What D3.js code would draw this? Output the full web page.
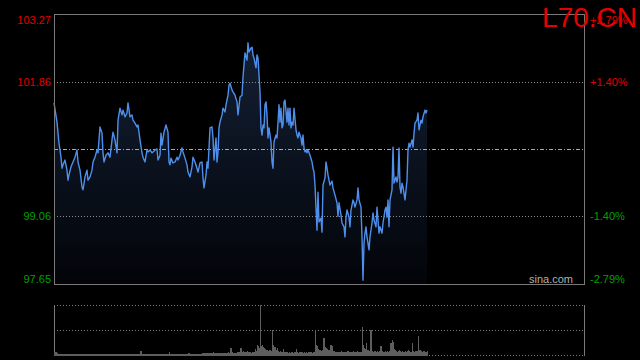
<!DOCTYPE html>
<html><head><meta charset="utf-8">
<script src="https://cdn.jsdelivr.net/npm/d3@7"></script>
<style>html,body{margin:0;padding:0;background:#000;overflow:hidden}</style>
</head><body>
<svg id="c" width="640" height="360"></svg>
<script>
const symbol = "L70.CN";
const watermark = "sina.com";
const priceTicks = [97.65, 99.06, 101.86, 103.27];
const priceLabels = ["97.65", "99.06", "101.86", "103.27"];
const pctLabels = ["-2.79%", "-1.40%", "+1.40%", "+2.79%"];
const prevClose = 100.46;
const sessionMinutes = 530;

const minutes = [
  0,3,4,5,7,8,9,11,13,14,
  15,17,19,21,23,24,26,28,29,31,
  33,34,36,38,39,41,43,44,46,48,
  49,50,52,54,56,58,59,61,63,64,
  66,68,69,71,73,74,76,78,79,81,
  83,84,86,88,89,91,93,94,96,98,
  99,101,103,104,106,107,108,110,112,114,
  115,116,117,119,121,123,124,126,128,129,
  131,133,134,136,138,139,141,143,144,146,
  148,149,150,152,153,154,156,158,159,160,
  162,163,164,165,166,168,169,171,172,174,
  175,176,178,179,181,183,184,186,188,189,
  190,191,193,194,195,197,198,199,200,201,
  202,203,204,205,206,207,208,209,210,211,
  212,213,214,215,217,218,219,220,222,223,
  224,225,226,227,228,229,230,231,233,234,
  235,236,237,238,239,240,242,243,244,245,
  247,248,249,250,251,252,253,254,256,258,
  259,260,261,262,263,264,265,267,268,269,
  271,272,273,274,276,278,279,281,283,284,
  285,287,288,290,291,292,293,295,296,297,
  299,300,301,303,304,305,307,308,309,310,
  311,312,313,315,316,318,319,320,322,323,
  324,325,326,328,329,331,332,333,334,335,
  336,338,339,340,341,342,343,344,345,346,
  347,348,349,351,352,353,354,355,356,358,
  359,360,361,363,364,365,367,368,369,371,
  372,373
];

const prices = [
  101.42,101.02,100.79,100.58,100.29,100.06,100.13,100.23,100.02,99.81,
  99.92,100.09,100.19,100.29,100.44,100.19,100.02,99.67,99.61,99.88,
  100.02,99.81,99.88,100.02,100.19,100.29,100.44,100.38,100.92,100.79,
  100.38,100.19,100.33,100.38,100.29,100.65,100.81,100.65,100.38,101.06,
  101.31,101.17,101.27,101.13,101.21,101.42,101.13,101.17,101.06,101.00,
  100.92,100.96,100.65,100.38,100.29,100.19,100.44,100.40,100.44,100.38,
  100.40,100.44,100.46,100.23,100.33,100.79,100.54,100.81,100.96,100.81,
  100.19,100.13,100.27,100.17,100.19,100.29,100.23,100.33,100.48,100.40,
  100.27,100.13,99.98,99.88,100.09,100.29,100.19,100.06,99.98,100.17,
  100.19,99.86,99.65,99.92,100.19,100.06,100.90,100.92,100.69,100.23,
  100.69,100.19,100.40,100.90,101.02,101.17,101.31,101.23,101.38,101.58,
  101.79,101.83,101.69,101.65,101.58,101.44,101.17,101.54,101.58,101.96,
  102.21,102.46,102.31,102.67,102.48,102.56,102.58,102.42,102.35,102.25,
  102.15,102.42,102.35,102.00,101.65,100.90,100.75,100.96,100.90,101.38,
  101.44,101.17,100.69,100.90,100.61,100.19,100.06,100.61,100.75,100.69,
  101.02,101.38,101.02,101.31,100.90,100.96,101.44,101.48,101.02,101.31,
  100.96,101.31,100.90,101.02,100.96,101.31,100.86,100.75,100.69,100.81,
  100.69,100.54,100.75,100.48,100.40,100.44,100.38,100.44,100.33,100.19,
  100.06,99.98,99.71,99.23,98.77,99.56,98.94,99.02,98.73,99.71,
  99.86,100.19,100.06,99.92,99.71,99.79,99.65,99.50,99.34,99.06,
  99.34,99.09,98.92,98.84,98.63,99.04,99.19,99.04,98.84,99.19,
  99.40,99.34,99.25,99.40,99.65,99.40,99.25,98.63,97.73,98.50,
  98.71,98.84,98.63,98.36,98.63,98.92,99.13,98.98,98.84,99.25,
  98.98,98.71,98.84,98.71,98.92,99.19,99.25,99.04,99.40,98.84,
  99.40,99.61,100.50,99.75,99.81,99.88,99.77,99.88,100.48,99.67,
  99.54,99.75,99.67,99.40,99.61,99.81,100.44,100.58,100.50,100.65,
  100.50,100.79,101.00,101.06,101.21,100.86,101.06,101.00,101.13,101.27,
  101.21,101.27
];

const volumes = [
  300,150,100,100,80,80,100,120,80,80,
  60,80,60,60,80,60,60,80,60,60,
  60,60,80,60,60,60,60,60,80,60,
  60,60,60,60,60,60,60,60,60,80,
  60,60,60,60,60,60,60,60,60,60,
  60,60,400,80,60,60,60,60,60,60,
  60,60,60,60,60,60,60,60,60,80,
  300,80,60,60,60,60,60,60,60,60,
  80,100,250,100,80,80,100,100,80,100,
  150,200,250,150,200,150,200,250,300,200,
  150,200,150,200,150,200,200,250,200,300,
  250,700,300,250,250,300,300,700,300,400,
  350,300,400,350,300,250,300,350,300,600,
  400,1000,900,700,5000,900,1000,800,700,600,
  500,500,400,500,400,2500,1000,800,500,700,
  400,300,400,300,300,600,300,300,300,250,
  300,250,300,300,250,300,600,300,250,300,
  300,300,250,300,250,300,250,300,300,250,
  300,300,2500,1000,900,600,500,400,500,1700,
  800,700,600,500,1000,900,400,300,300,350,
  300,400,300,350,300,300,400,300,350,300,
  400,350,300,400,300,350,300,2800,1000,700,
  600,1200,500,400,2500,400,350,400,350,400,
  350,400,900,400,350,400,350,400,350,400,
  1200,1500,1300,600,500,400,350,400,500,400,
  350,400,300,400,350,400,500,400,350,1200,
  400,350,400,400,1900,500,400,350,400,300,
  350,400
];

const data = minutes.map((m, i) => ({ m, p: prices[i], v: volumes[i] }));

const svg = d3.select("#c");
const font = "'Liberation Sans', Arial, sans-serif";
const M = { l: 54, r: 584, t: 14, b: 284 };
const V = { t: 305, b: 355 };

const x = d3.scaleLinear().domain([0, sessionMinutes]).range([M.l, M.r]);
const y = d3.scaleLinear().domain([priceTicks[0], priceTicks[priceTicks.length - 1]]).range([M.b, M.t]);
const yv = d3.scaleLinear().domain([0, d3.max(volumes)]).range([V.b, V.t]);
const crisp = v => Math.round(v) + 0.5;

// gradient
const defs = svg.append("defs");
const grad = defs.append("linearGradient").attr("id", "fillg")
  .attr("gradientUnits", "userSpaceOnUse")
  .attr("x1", 0).attr("x2", 0).attr("y1", M.t).attr("y2", M.b);
grad.append("stop").attr("offset", "0%").attr("stop-color", "#16233a");
grad.append("stop").attr("offset", "100%").attr("stop-color", "#020408");

// area
svg.append("path").datum(data)
  .attr("fill", "url(#fillg)")
  .attr("d", d3.area().x(d => x(d.m)).y0(M.b).y1(d => y(d.p)));

// grid lines
const gridVals = priceTicks.slice(1, -1);
svg.append("g").selectAll("line").data(gridVals).join("line")
  .attr("x1", M.l).attr("x2", M.r)
  .attr("y1", d => crisp(y(d))).attr("y2", d => crisp(y(d)))
  .attr("stroke", "#8c8c8c").attr("stroke-dasharray", "1,2")
  .attr("shape-rendering", "crispEdges");
svg.append("line")
  .attr("x1", M.l).attr("x2", M.r)
  .attr("y1", crisp(y(prevClose))).attr("y2", crisp(y(prevClose)))
  .attr("stroke", "#a8a8a8").attr("stroke-dasharray", "4,2,1,2")
  .attr("shape-rendering", "crispEdges");

// price line
svg.append("path").datum(data)
  .attr("fill", "none").attr("stroke", "#4f8fec").attr("stroke-width", 1.4)
  .attr("stroke-linejoin", "round")
  .attr("d", d3.line().x(d => x(d.m)).y(d => y(d.p)));

// border
svg.append("rect")
  .attr("x", M.l + 0.5).attr("y", M.t + 0.5)
  .attr("width", M.r - M.l).attr("height", M.b - M.t)
  .attr("fill", "none").attr("stroke", "#7a7a7a").attr("shape-rendering", "crispEdges");

// axes
const colorFor = d => d > prevClose ? "#e00000" : (d < prevClose ? "#00a000" : "#aaa");
const last = priceTicks.length - 1;
const dyFor = i => i === last ? "0.85em" : (i === 0 ? "-0.15em" : "0.32em");

const gl = svg.append("g").attr("transform", `translate(${M.l},0)`)
  .call(d3.axisLeft(y).tickValues(priceTicks).tickSize(0).tickPadding(3)
    .tickFormat((d, i) => priceLabels[i]));
gl.select(".domain").remove();
gl.selectAll("text").attr("fill", d => colorFor(d)).attr("font-family", font).attr("font-size", 11)
  .attr("dy", (d, i) => dyFor(i));

const gr = svg.append("g").attr("transform", `translate(${M.r},0)`)
  .call(d3.axisRight(y).tickValues(priceTicks).tickSize(0).tickPadding(6)
    .tickFormat((d, i) => pctLabels[i]));
gr.select(".domain").remove();
gr.selectAll("text").attr("fill", d => colorFor(d)).attr("font-family", font).attr("font-size", 11)
  .attr("dy", (d, i) => dyFor(i));

// watermark
svg.append("text").attr("x", 573).attr("y", 283).attr("text-anchor", "end")
  .attr("fill", "#b0b0b0").attr("font-family", font).attr("font-size", 11).text(watermark);

// volume panel
[V.t, (V.t + V.b) / 2, V.b].forEach(v => {
  svg.append("line").attr("x1", M.l).attr("x2", M.r + 1)
    .attr("y1", crisp(v)).attr("y2", crisp(v))
    .attr("stroke", "#7a7a7a").attr("stroke-dasharray", "1,2")
    .attr("shape-rendering", "crispEdges");
});
[M.l, M.r].forEach(px => {
  svg.append("line").attr("x1", px + 0.5).attr("x2", px + 0.5)
    .attr("y1", V.t).attr("y2", V.b + 1)
    .attr("stroke", "#7a7a7a").attr("shape-rendering", "crispEdges");
});
svg.append("g").selectAll("rect").data(data).join("rect")
  .attr("x", d => Math.round(x(d.m)))
  .attr("width", (d, i) => i < data.length - 1 ? Math.max(1, Math.round(x(data[i + 1].m)) - Math.round(x(d.m))) : 1)
  .attr("y", d => Math.round(yv(d.v)))
  .attr("height", d => V.b - Math.round(yv(d.v)) + 1)
  .attr("fill", "#5e5e5e").attr("shape-rendering", "crispEdges");

// title
svg.append("text").attr("x", 637).attr("y", 27).attr("text-anchor", "end")
  .attr("fill", "#e60000").attr("font-family", font).attr("font-size", 28)
  .text(symbol);
</script>
</body></html>
